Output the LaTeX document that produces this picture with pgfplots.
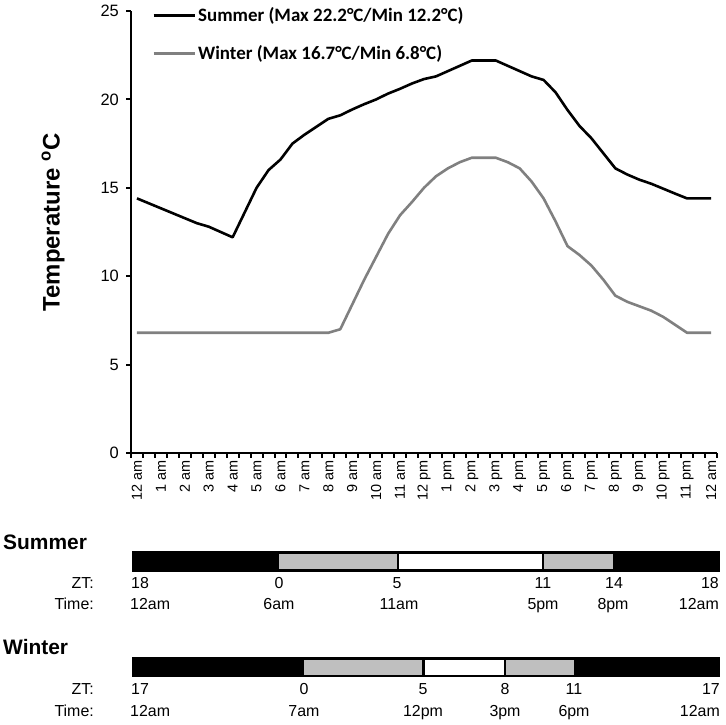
\documentclass[border=0pt]{standalone}
\usepackage{pgfplots}
\pgfplotsset{compat=1.18}
\usepackage{fontspec}
\setmainfont{Liberation Sans}
\newfontfamily\calibri{Carlito}
\definecolor{wgray}{RGB}{128,128,128}
\definecolor{lgray}{RGB}{191,191,191}

\begin{document}
\begin{tikzpicture}
\useasboundingbox (0,0) rectangle (726bp,725bp);
\begin{axis}[
  at={(131bp,272bp)}, anchor=south west,
  scale only axis, width=586bp, height=442bp,
  xmin=-0.25, xmax=24.25, ymin=0, ymax=25,
  axis x line*=bottom, axis y line*=left,
  axis line style={line width=2.5bp, black},
  ytick={0,5,...,25},
  xtick={0,...,24},
  xticklabels={12 am,1 am,2 am,3 am,4 am,5 am,6 am,7 am,8 am,9 am,10 am,11 am,12 pm,1 pm,2 pm,3 pm,4 pm,5 pm,6 pm,7 pm,8 pm,9 pm,10 pm,11 pm,12 am},
  minor xtick={-0.25,0.25,...,24.25},
  major x tick style={draw=none},
  minor x tick style={black, line width=2bp},
  ytick style={black, line width=2bp},
  tick align=outside,
  major tick length=5bp, minor tick length=5bp,
  /pgf/number format/assume math mode=true,
  yticklabel style={font=\fontsize{16.5}{19}\selectfont, inner sep=0pt, xshift=-7bp},
  xticklabel style={font=\fontsize{14.5}{16}\selectfont, rotate=90, anchor=east, inner sep=2bp},
  ylabel={\bfseries Temperature \textsuperscript{o}C},
  ylabel style={at={(axis description cs:-0.1331,0.5215)}, anchor=center, font=\fontsize{24}{28}\selectfont},
  legend style={at={(axis description cs:0.0358,1.012)}, anchor=north west, draw=none, fill=none, inner sep=0pt, row sep=18bp,
    font=\calibri\bfseries\fontsize{19}{22}\selectfont},
  legend image code/.code={\draw[#1, line width=3bp] (0bp,0bp) -- (41bp,0bp);},
  legend cell align=left,
  clip=false,
]
\addplot[black, line width=2.6bp, line join=round] coordinates {
(0,14.4)(0.5,14.12)(1,13.84)(1.5,13.56)(2,13.28)(2.5,13.0)(3,12.8)(3.5,12.5)(4,12.2)
(4.5,13.6)(5,15.0)(5.5,16.0)(6,16.6)(6.5,17.5)(7,18.0)(7.5,18.45)(8,18.9)(8.5,19.1)
(9,19.43)(9.5,19.73)(10,20.0)(10.5,20.33)(11,20.6)(11.5,20.9)(12,21.15)(12.5,21.3)
(13,21.6)(13.5,21.9)(14,22.2)(14.5,22.2)(15,22.2)(15.5,21.9)(16,21.6)(16.5,21.3)
(17,21.1)(17.5,20.4)(18,19.4)(18.5,18.5)(19,17.8)(19.5,16.95)(20,16.1)(20.5,15.75)
(21,15.46)(21.5,15.23)(22,14.95)(22.5,14.67)(23,14.4)(23.5,14.4)(24,14.4)};
\addlegendentry{Summer (Max 22.2°C/Min 12.2°C)}
\addplot[wgray, line width=2.6bp, line join=round] coordinates {
(0,6.8)(0.5,6.8)(1,6.8)(1.5,6.8)(2,6.8)(2.5,6.8)(3,6.8)(3.5,6.8)(4,6.8)(4.5,6.8)
(5,6.8)(5.5,6.8)(6,6.8)(6.5,6.8)(7,6.8)(7.5,6.8)(8,6.8)(8.5,7.0)(9,8.4)(9.5,9.8)
(10,11.1)(10.5,12.4)(11,13.45)(11.5,14.2)(12,15.0)(12.5,15.65)(13,16.1)(13.5,16.45)
(14,16.7)(14.5,16.7)(15,16.7)(15.5,16.45)(16,16.1)(16.5,15.35)(17,14.4)(17.5,13.1)
(18,11.7)(18.5,11.2)(19,10.6)(19.5,9.8)(20,8.9)(20.5,8.55)(21,8.3)(21.5,8.05)
(22,7.7)(22.5,7.25)(23,6.8)(23.5,6.8)(24,6.8)};
\addlegendentry{Winter (Max 16.7°C/Min 6.8°C)}
\end{axis}

% light schedule bars
\begin{axis}[
  at={(133bp,48bp)}, anchor=south west,
  scale only axis, width=586bp, height=126bp,
  xmin=0, xmax=24, ymin=551, ymax=677, y dir=reverse,
  axis lines=none, clip=false,
]
% Summer
\addplot[fill=black, draw=none] coordinates {(0,552.5)(5.98,552.5)(5.98,570.5)(0,570.5)} -- cycle;
\addplot[fill=lgray, draw=none] coordinates {(5.98,552.5)(10.85,552.5)(10.85,570.5)(5.98,570.5)} -- cycle;
\addplot[fill=white, draw=none] coordinates {(10.85,552.5)(16.79,552.5)(16.79,570.5)(10.85,570.5)} -- cycle;
\addplot[fill=lgray, draw=none] coordinates {(16.79,552.5)(19.66,552.5)(19.66,570.5)(16.79,570.5)} -- cycle;
\addplot[fill=black, draw=none] coordinates {(19.66,552.5)(24,552.5)(24,570.5)(19.66,570.5)} -- cycle;
\addplot[draw=black, line width=2.5bp] coordinates {(0,552.5)(24,552.5)(24,570.5)(0,570.5)} -- cycle;
\addplot[draw=black, line width=2.5bp] coordinates {(10.85,552.5)(10.85,570.5)};
\addplot[draw=black, line width=2.5bp] coordinates {(16.79,552.5)(16.79,570.5)};
% Winter
\addplot[fill=black, draw=none] coordinates {(0,658.5)(7.0,658.5)(7.0,676)(0,676)} -- cycle;
\addplot[fill=lgray, draw=none] coordinates {(7.0,658.5)(11.9,658.5)(11.9,676)(7.0,676)} -- cycle;
\addplot[fill=white, draw=none] coordinates {(11.9,658.5)(15.24,658.5)(15.24,676)(11.9,676)} -- cycle;
\addplot[fill=lgray, draw=none] coordinates {(15.24,658.5)(18.08,658.5)(18.08,676)(15.24,676)} -- cycle;
\addplot[fill=black, draw=none] coordinates {(18.08,658.5)(24,658.5)(24,676)(18.08,676)} -- cycle;
\addplot[draw=black, line width=2.5bp] coordinates {(0,658.5)(24,658.5)(24,676)(0,676)} -- cycle;
\addplot[draw=black, line width=2.5bp] coordinates {(11.9,658.5)(11.9,676)};
\addplot[draw=black, line width=2.5bp] coordinates {(15.24,658.5)(15.24,676)};
\end{axis}

\begin{scope}[every node/.style={inner sep=0pt, font=\fontsize{16}{19}\selectfont}]
% Summer
\node[anchor=base west, font=\bfseries\fontsize{21}{25}\selectfont] at (3bp,175bp) {Summer};
\node[anchor=base east] at (94bp,136.7bp) {ZT:};
\node[anchor=base east] at (94bp,115bp) {Time:};
\node[anchor=base west] at (131bp,136.7bp) {18};
\node[anchor=base] at (279bp,136.7bp) {0};
\node[anchor=base] at (397bp,136.7bp) {5};
\node[anchor=base] at (543bp,136.7bp) {11};
\node[anchor=base] at (614bp,136.7bp) {14};
\node[anchor=base east] at (719bp,136.7bp) {18};
\node[anchor=base west] at (130bp,115bp) {12am};
\node[anchor=base] at (279bp,115bp) {6am};
\node[anchor=base] at (399bp,115bp) {11am};
\node[anchor=base] at (543bp,115bp) {5pm};
\node[anchor=base] at (613bp,115bp) {8pm};
\node[anchor=base east] at (719bp,115bp) {12am};
% Winter
\node[anchor=base west, font=\bfseries\fontsize{21}{25}\selectfont] at (3bp,70bp) {Winter};
\node[anchor=base east] at (94bp,30.7bp) {ZT:};
\node[anchor=base east] at (94bp,8.5bp) {Time:};
\node[anchor=base west] at (131bp,30.7bp) {17};
\node[anchor=base] at (304bp,30.7bp) {0};
\node[anchor=base] at (423bp,30.7bp) {5};
\node[anchor=base] at (505bp,30.7bp) {8};
\node[anchor=base] at (574bp,30.7bp) {11};
\node[anchor=base east] at (720bp,30.7bp) {17};
\node[anchor=base west] at (130bp,8.5bp) {12am};
\node[anchor=base] at (304bp,8.5bp) {7am};
\node[anchor=base] at (423bp,8.5bp) {12pm};
\node[anchor=base] at (505bp,8.5bp) {3pm};
\node[anchor=base] at (574bp,8.5bp) {6pm};
\node[anchor=base east] at (720bp,8.5bp) {12am};
\end{scope}
\end{tikzpicture}
\end{document}
